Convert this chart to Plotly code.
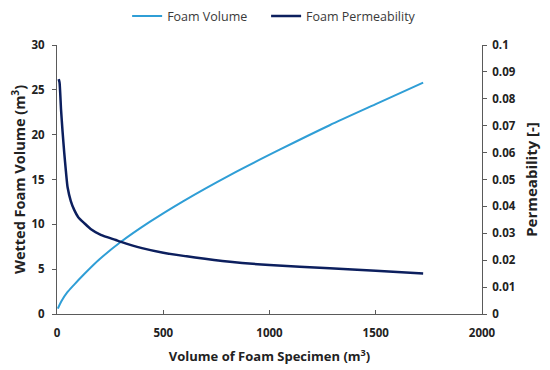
import plotly.graph_objects as go

# Foam Volume (left axis)
vol_x = [4, 20, 48, 80, 126, 200, 298, 438, 595, 814, 1050, 1283, 1500, 1723]
vol_y = [0.6, 1.4, 2.4, 3.25, 4.4, 6.1, 8.0, 10.3, 12.6, 15.5, 18.35, 21.05, 23.4, 25.8]

# Foam Permeability (right axis)
perm_x = [8, 12, 19, 26, 34, 42, 50, 65, 81, 100, 128, 160, 206, 277, 298, 400, 500,
          650, 814, 1000, 1283, 1500, 1723]
perm_y = [0.0873, 0.086, 0.076, 0.068, 0.060, 0.053, 0.047, 0.042, 0.0387, 0.036, 0.0338,
          0.0315, 0.0294, 0.0275, 0.0269, 0.0245, 0.0228, 0.021, 0.0194, 0.0182, 0.017,
          0.0161, 0.0151]

FONT = "Open Sans"
axis_col = "#5a5a5a"

fig = go.Figure()
fig.add_trace(go.Scatter(x=vol_x, y=vol_y, mode="lines", name="Foam Volume", legend="legend",
                         line=dict(color="#2f9ed6", width=2, shape="spline", smoothing=0.8)))
fig.add_trace(go.Scatter(x=perm_x, y=perm_y, mode="lines", name="Foam Permeability",
                         yaxis="y2", legend="legend2",
                         line=dict(color="#0c1f5e", width=2.5, shape="spline", smoothing=0.6)))

tickfont = dict(family=FONT, size=11.5, color="#222222", weight="bold")

def tfont(sz):
    return dict(family=FONT, size=sz, color="#222222", weight="bold")

legfont = dict(family=FONT, size=12.5, color="#3a3a3a")

fig.update_layout(
    width=550, height=370,
    margin=dict(l=49, r=76, t=37, b=64, autoexpand=False),
    paper_bgcolor="white", plot_bgcolor="white",
    showlegend=True,
    legend=dict(orientation="h", x=0.165, xanchor="left", y=1.106, yanchor="middle",
                font=legfont, itemwidth=30),
    legend2=dict(orientation="h", x=0.492, xanchor="left", y=1.106, yanchor="middle",
                 font=legfont, itemwidth=30),
    xaxis=dict(range=[0, 2000], dtick=500, showgrid=False, zeroline=False,
               showline=True, linecolor=axis_col, linewidth=1, automargin=False,
               ticks="inside", ticklen=4, tickcolor=axis_col,
               tickfont=tickfont, ticklabelstandoff=8,
               title=dict(text="Volume of Foam Specimen (m<sup>3</sup>)", font=tfont(13), standoff=13)),
    yaxis=dict(range=[0, 30], dtick=5, showgrid=False, zeroline=False,
               showline=True, linecolor=axis_col, linewidth=1, automargin=False,
               ticks="outside", ticklen=4, tickcolor=axis_col,
               tickfont=tickfont, ticklabelstandoff=5,
               title=dict(text="Wetted Foam Volume (m<sup>3</sup>)", font=tfont(14.5), standoff=7)),
    yaxis2=dict(range=[0, 0.1], dtick=0.01, overlaying="y", side="right",
                showgrid=False, zeroline=False, automargin=False,
                showline=True, linecolor=axis_col, linewidth=1,
                ticks="outside", ticklen=4, tickcolor=axis_col,
                tickfont=tickfont, ticklabelstandoff=3,
                title=dict(text="Permeability [-]", font=tfont(15), standoff=11)),
)

fig.write_html("out.html")
